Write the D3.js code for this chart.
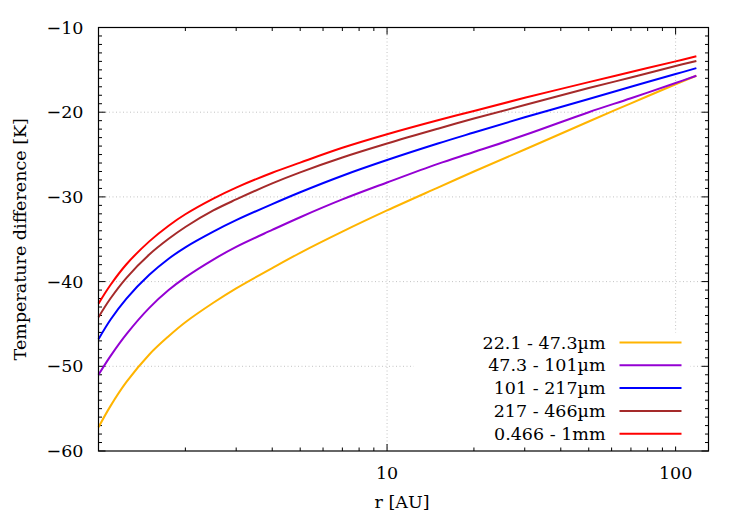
<!DOCTYPE html>
<html>
<head>
<meta charset="utf-8">
<script src="https://cdn.jsdelivr.net/npm/d3@7"></script>
<style>
  html, body { margin: 0; padding: 0; background: #fff; }
  svg text { font-family: "DejaVu Serif", "Liberation Serif", serif; fill: #000; }
</style>
</head>
<body>
<div id="chart"></div>
<script>
// rayon en AU
const radius = [1, 1.1, 1.25, 1.5, 1.75, 2, 2.5, 3, 4, 5, 7, 10, 15, 20, 30, 50, 70, 100, 118];

// différences de température [K], une série par intervalle de taille
const dT_22_47 = [-57.2, -54.7, -51.85, -48.6, -46.45, -44.8, -42.5, -40.8, -38.4, -36.6, -34.1, -31.6, -28.9, -27.0, -24.4, -21.1, -18.95, -16.7, -15.7];
const dT_47_101 = [-51.0, -48.8, -46.2, -43.1, -41.0, -39.5, -37.4, -35.9, -33.9, -32.4, -30.3, -28.3, -26.1, -24.7, -22.7, -20.0, -18.35, -16.55, -15.7];
const dT_101_217 = [-46.8, -44.5, -42.0, -39.2, -37.3, -35.95, -34.1, -32.75, -30.85, -29.45, -27.5, -25.65, -23.7, -22.4, -20.6, -18.45, -17.0, -15.5, -14.8];
const dT_217_466 = [-44.2, -42.0, -39.55, -36.8, -34.95, -33.55, -31.6, -30.3, -28.4, -27.1, -25.35, -23.7, -21.95, -20.75, -19.15, -17.15, -15.9, -14.55, -13.95];
const dT_466_1mm = [-42.6, -40.4, -37.95, -35.25, -33.4, -32.05, -30.2, -28.9, -27.15, -25.95, -24.2, -22.6, -20.95, -19.85, -18.3, -16.45, -15.25, -14.0, -13.4];

const seriesLabels = ["22.1 - 47.3\u00b5m", "47.3 - 101\u00b5m", "101 - 217\u00b5m", "217 - 466\u00b5m", "0.466 - 1mm"];
const seriesValues = [dT_22_47, dT_47_101, dT_101_217, dT_217_466, dT_466_1mm];
const seriesColors = ["#ffb400", "#9400d3", "#0000ff", "#a52a2a", "#ff0000"];

const xDomain = [1, 130];
const yDomain = [-60, -10];
const xTickValues = [10, 100];
const yTickValues = [-60, -50, -40, -30, -20, -10];

// Dimensions
const W = 750, H = 525;
const margin = {top: 27.5, right: 41.5, bottom: 74, left: 98.5};
const iw = W - margin.left - margin.right;
const ih = H - margin.top - margin.bottom;
const fs = 17.5;

const svg = d3.select("#chart").append("svg")
    .attr("width", W)
    .attr("height", H);

const g = svg.append("g").attr("transform", `translate(${margin.left},${margin.top})`);

const x = d3.scaleLog().domain(xDomain).range([0, iw]);
const y = d3.scaleLinear().domain(yDomain).range([ih, 0]);

// grille pointillée
const gridStyle = sel => sel.attr("stroke", "#b4b4b4").attr("stroke-width", 0.8).attr("stroke-dasharray", "1,2.5");
g.selectAll(".hgrid").data(yTickValues.slice(1, -1)).enter().append("line")
    .attr("x1", 0).attr("x2", iw)
    .attr("y1", d => y(d)).attr("y2", d => y(d))
    .call(gridStyle);
g.selectAll(".vgrid").data(xTickValues).enter().append("line")
    .attr("x1", d => x(d)).attr("x2", d => x(d))
    .attr("y1", 0).attr("y2", ih)
    .call(gridStyle);

// ticks intérieurs (gnuplot-like), sur les 4 côtés
const xMinor = [];
for (let dec = 1; dec <= 100; dec *= 10) {
    for (let k = 2; k <= 9; k++) {
        const v = k * dec;
        if (v < xDomain[1]) xMinor.push(v);
    }
}
const yMinor = d3.range(-59, -10, 1).filter(v => v % 10 !== 0);

const majorLen = 7, minorLen = 3.5;
const tickG = g.append("g").attr("stroke", "#000").attr("stroke-width", 1);
xMinor.forEach(v => {
    tickG.append("line").attr("x1", x(v)).attr("x2", x(v)).attr("y1", ih).attr("y2", ih - minorLen);
    tickG.append("line").attr("x1", x(v)).attr("x2", x(v)).attr("y1", 0).attr("y2", minorLen);
});
xTickValues.forEach(v => {
    tickG.append("line").attr("x1", x(v)).attr("x2", x(v)).attr("y1", ih).attr("y2", ih - majorLen);
    tickG.append("line").attr("x1", x(v)).attr("x2", x(v)).attr("y1", 0).attr("y2", majorLen);
});
yMinor.forEach(v => {
    tickG.append("line").attr("x1", 0).attr("x2", minorLen).attr("y1", y(v)).attr("y2", y(v));
    tickG.append("line").attr("x1", iw).attr("x2", iw - minorLen).attr("y1", y(v)).attr("y2", y(v));
});
yTickValues.forEach(v => {
    tickG.append("line").attr("x1", 0).attr("x2", majorLen).attr("y1", y(v)).attr("y2", y(v));
    tickG.append("line").attr("x1", iw).attr("x2", iw - majorLen).attr("y1", y(v)).attr("y2", y(v));
});

// étiquettes des axes
const fmt = d3.format("d");
g.selectAll(".ylab").data(yTickValues).enter().append("text")
    .attr("x", -15).attr("y", d => y(d))
    .attr("dy", "0.35em")
    .attr("text-anchor", "end")
    .attr("font-size", fs)
    .text(d => fmt(d));
g.selectAll(".xlab").data(xTickValues).enter().append("text")
    .attr("x", d => x(d)).attr("y", ih + 22)
    .attr("dy", "0.35em")
    .attr("text-anchor", "middle")
    .attr("font-size", fs)
    .text(d => fmt(d));

svg.append("text")
    .attr("x", 402).attr("y", 502)
    .attr("dy", "0.35em")
    .attr("text-anchor", "middle")
    .attr("font-size", fs)
    .text("r [AU]");
svg.append("text")
    .attr("transform", `translate(20,${margin.top + ih / 2}) rotate(-90)`)
    .attr("dy", "0.35em")
    .attr("text-anchor", "middle")
    .attr("font-size", fs)
    .text("Temperature difference [K]");

// courbes
const line = d3.line()
    .x(d => x(d[0]))
    .y(d => y(d[1]))
    .curve(d3.curveCatmullRom.alpha(0.5));

seriesValues.forEach((vals, i) => {
    g.append("path")
        .datum(radius.map((r, j) => [r, vals[j]]))
        .attr("fill", "none")
        .attr("stroke", seriesColors[i])
        .attr("stroke-width", 2)
        .attr("d", line);
});

// légende avec fond blanc
const legX = 315, legY = 305;
const rowH = 22.8;
const leg = g.append("g");
leg.append("rect")
    .attr("x", legX).attr("y", legY)
    .attr("width", 277).attr("height", 114)
    .attr("fill", "#fff");
seriesLabels.forEach((lab, i) => {
    const cy = legY + 10 + i * rowH;
    leg.append("text")
        .attr("x", legX + 192).attr("y", cy)
        .attr("dy", "0.35em")
        .attr("text-anchor", "end")
        .attr("font-size", fs)
        .text(lab);
    leg.append("line")
        .attr("x1", legX + 206).attr("x2", legX + 268)
        .attr("y1", cy).attr("y2", cy)
        .attr("stroke", seriesColors[i])
        .attr("stroke-width", 2);
});

// cadre
g.append("rect")
    .attr("x", 0).attr("y", 0)
    .attr("width", iw).attr("height", ih)
    .attr("fill", "none")
    .attr("stroke", "#000")
    .attr("stroke-width", 1.2);
</script>
</body>
</html>
